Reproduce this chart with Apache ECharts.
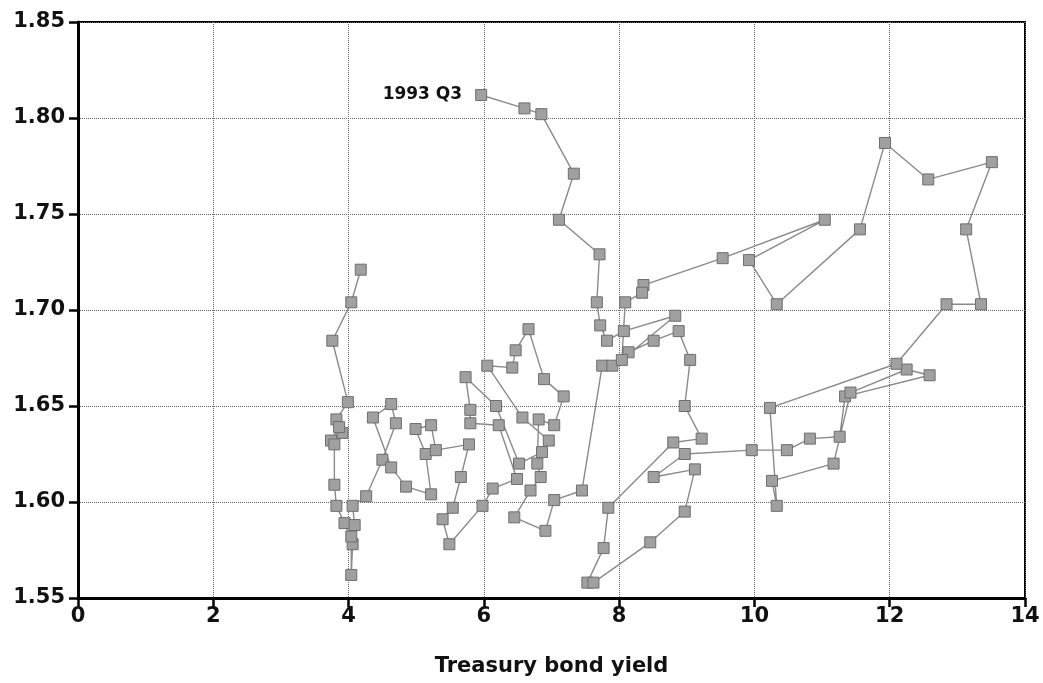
<!DOCTYPE html>
<html>
<head>
<meta charset="utf-8">
<script src="https://cdn.jsdelivr.net/npm/echarts@6/dist/echarts.min.js"></script>
<style>
  html, body { margin: 0; padding: 0; background: #fff; }
  #chart { width: 1043px; height: 683px; }
</style>
</head>
<body>
<div id="chart"></div>
<script>
// treasury bond yield (x) and ratio (y), in time order, last point is 1993 Q3
const yields = [
  4.18, 4.04, 3.76, 3.99, 3.82, 3.91, 3.74, 3.86, 3.79, 3.79,
  3.82, 3.94, 4.06, 4.04, 4.04, 4.09, 4.06, 4.26, 4.50, 4.70,
  4.63, 4.36, 4.63, 4.85, 5.22, 5.14, 4.99, 5.22, 5.29, 5.78,
  5.66, 5.54, 5.39, 5.49, 5.98, 6.13, 6.49, 6.22, 5.80, 5.80,
  5.73, 6.18, 6.52, 6.86, 6.96, 6.57, 6.05, 6.42, 6.47, 6.66,
  6.89, 7.18, 7.04, 6.81, 6.79, 6.84, 6.69, 6.45, 6.91, 7.04,
  7.45, 7.75, 7.90, 8.14, 8.51, 8.88, 9.05, 8.97, 9.22, 8.80,
  7.84, 7.77, 7.53, 7.62, 8.46, 8.97, 9.12, 8.51, 8.97, 9.96,
  10.48, 10.82, 11.26, 11.34, 12.59, 12.25, 11.42, 11.17, 10.26, 10.33,
  10.23, 12.10, 12.84, 13.35, 13.13, 13.51, 12.57, 11.93, 11.56, 10.33,
  9.92, 11.04, 9.53, 8.36, 8.34, 8.09, 8.04, 8.83, 8.07, 7.82,
  7.72, 7.67, 7.71, 7.11, 7.33, 6.85, 6.60, 5.96
];
const ratios = [
  1.721, 1.704, 1.684, 1.652, 1.643, 1.636, 1.632, 1.639, 1.630, 1.609,
  1.598, 1.589, 1.578, 1.562, 1.582, 1.588, 1.598, 1.603, 1.622, 1.641,
  1.651, 1.644, 1.618, 1.608, 1.604, 1.625, 1.638, 1.640, 1.627, 1.630,
  1.613, 1.597, 1.591, 1.578, 1.598, 1.607, 1.612, 1.640, 1.641, 1.648,
  1.665, 1.650, 1.620, 1.626, 1.632, 1.644, 1.671, 1.670, 1.679, 1.690,
  1.664, 1.655, 1.640, 1.643, 1.620, 1.613, 1.606, 1.592, 1.585, 1.601,
  1.606, 1.671, 1.671, 1.678, 1.684, 1.689, 1.674, 1.650, 1.633, 1.631,
  1.597, 1.576, 1.558, 1.558, 1.579, 1.595, 1.617, 1.613, 1.625, 1.627,
  1.627, 1.633, 1.634, 1.655, 1.666, 1.669, 1.657, 1.620, 1.611, 1.598,
  1.649, 1.672, 1.703, 1.703, 1.742, 1.777, 1.768, 1.787, 1.742, 1.703,
  1.726, 1.747, 1.727, 1.713, 1.709, 1.704, 1.674, 1.697, 1.689, 1.684,
  1.692, 1.704, 1.729, 1.747, 1.771, 1.802, 1.805, 1.812
];
const xTicks = [0, 2, 4, 6, 8, 10, 12, 14];
const yTicks = [1.55, 1.60, 1.65, 1.70, 1.75, 1.80, 1.85];
const pointLabel = '1993 Q3';

const FONT = 'DejaVu Sans';

const points = yields.map((x, i) => {
  const p = { value: [x, ratios[i]] };
  if (i === yields.length - 1) {
    p.label = {
      show: true, position: 'left', distance: 13,
      formatter: pointLabel,
      fontFamily: FONT, fontWeight: 'bold', fontSize: 17, color: '#111'
    };
  }
  return p;
});

const chart = echarts.init(document.getElementById('chart'));
chart.setOption({
  animation: false,
  backgroundColor: '#fff',
  grid: {
    left: 78, right: 18, top: 22, bottom: 85,
    show: true, borderColor: '#000', borderWidth: 2
  },
  xAxis: {
    type: 'value',
    min: xTicks[0], max: xTicks[xTicks.length - 1], interval: 2,
    name: 'Treasury bond yield',
    nameLocation: 'middle', nameGap: 58,
    nameTextStyle: { fontFamily: FONT, fontWeight: 'bold', fontSize: 21, color: '#111' },
    axisLine: { lineStyle: { color: '#000', width: 3 } },
    axisTick: { length: 9, lineStyle: { color: '#000', width: 2.5 } },
    axisLabel: { fontFamily: FONT, fontWeight: 'bold', fontSize: 21, color: '#111', margin: 8 },
    splitLine: { lineStyle: { color: '#666', type: 'dotted', width: 1 } }
  },
  yAxis: {
    type: 'value',
    min: yTicks[0], max: yTicks[yTicks.length - 1], interval: 0.05,
    axisLine: { show: true, lineStyle: { color: '#000', width: 3 } },
    axisTick: { show: true, length: 9, lineStyle: { color: '#000', width: 2.5 } },
    axisLabel: {
      fontFamily: FONT, fontWeight: 'bold', fontSize: 21, color: '#111', margin: 13,
      formatter: v => v.toFixed(2)
    },
    splitLine: { lineStyle: { color: '#666', type: 'dotted', width: 1 } }
  },
  series: [{
    type: 'line',
    data: points,
    symbol: 'rect',
    symbolSize: 11,
    lineStyle: { color: '#8a8a8a', width: 1.4 },
    itemStyle: { color: '#a0a0a0', borderColor: '#6e6e6e', borderWidth: 1 }
  }]
});
</script>
</body>
</html>
